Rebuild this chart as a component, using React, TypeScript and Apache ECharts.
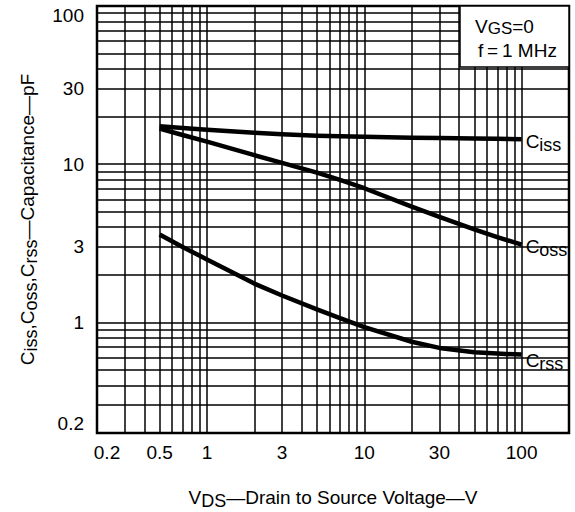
import React, { useEffect, useRef } from "react";
import * as echarts from "echarts";

// Drain-to-source voltage (V)
const vds = [0.5, 0.7, 1, 2, 3, 5, 7, 10, 20, 30, 50, 70, 100];
// Capacitances (pF)
const ciss = [17.4, 16.95, 16.5, 15.8, 15.45, 15.15, 15.0, 14.9, 14.72, 14.63, 14.52, 14.46, 14.4];
const coss = [16.8, 15.3, 13.9, 11.4, 10.2, 8.85, 7.95, 7.05, 5.4, 4.65, 3.88, 3.46, 3.1];
const crss = [3.6, 3.0, 2.5, 1.76, 1.48, 1.21, 1.065, 0.935, 0.755, 0.69, 0.648, 0.635, 0.626];

const xTickLabels = [0.2, 0.5, 1, 3, 10, 30, 100];
const yTickLabels = [0.2, 1, 3, 10, 30, 100];

const xGridValues = [
  0.3, 0.4, 0.5, 0.6, 0.7, 0.8, 0.9,
  1, 2, 3, 4, 5, 6, 7, 8, 9,
  10, 20, 30, 40, 50, 60, 70, 80, 90, 100,
];
const yGridValues = [
  0.3, 0.4, 0.5, 0.6, 0.7, 0.8, 0.9,
  1, 2, 3, 4, 5, 6, 7, 8, 9,
  10, 20, 30, 40, 50, 60, 70, 80, 90, 100,
];

const FONT = "'Liberation Sans', Arial, Helvetica, sans-serif";
const INK = "#000";
const FS = 19;

const mainTxt = { fontSize: FS, fontFamily: FONT, color: INK };
const subTxt = { fontSize: 18, fontFamily: FONT, color: INK, padding: [7, 0, 0, 0] };

export default function App() {
  const ref = useRef<HTMLDivElement>(null);

  useEffect(() => {
    if (!ref.current) return;
    const chart = echarts.init(ref.current, undefined, { renderer: "svg" });

    const curve = (name: string, ys: number[], sub: string, offY: number) => ({
      type: "line",
      name,
      data: vds.map((x, i) => [x, ys[i]]),
      showSymbol: false,
      symbol: "none",
      smooth: false,
      z: 5,
      lineStyle: { color: INK, width: 4.5, cap: "butt", join: "round" },
      endLabel: {
        show: true,
        distance: 4,
        offset: [0, offY],
        formatter: `{c|C}{s|${sub}}`,
        rich: { c: mainTxt, s: subTxt },
      },
      emphasis: { disabled: true },
    });

    const option: any = {
      animation: false,
      backgroundColor: "#fff",
      grid: {
        left: 97,
        right: 6,
        top: 6,
        bottom: 79,
        show: true,
        borderColor: INK,
        borderWidth: 2.5,
        backgroundColor: "transparent",
        outerBoundsMode: "none",
      },
      xAxis: {
        type: "log",
        logBase: 10,
        min: 0.2,
        max: 200,
        name: "{v|V}{s|DS}{n|—Drain to Source Voltage—V}",
        nameLocation: "middle",
        nameGap: 52,
        nameTextStyle: {
          rich: { v: mainTxt, s: subTxt, n: mainTxt },
        },
        axisLine: { show: false },
        axisTick: { show: false },
        splitLine: { show: false },
        minorSplitLine: { show: false },
        axisLabel: {
          customValues: xTickLabels,
          margin: 10,
          fontSize: FS,
          fontFamily: FONT,
          color: INK,
          formatter: (v: number) => (Math.abs(v - 0.2) < 1e-9 ? "{p|0.2}" : String(v)),
          rich: { p: { fontSize: FS, fontFamily: FONT, color: INK, padding: [0, 0, 0, 20] } },
        },
      },
      yAxis: {
        type: "log",
        logBase: 10,
        min: 0.2,
        max: 100,
        name: "{c|C}{s|iss}{c|,C}{s|oss}{c|,C}{s|rss}{c|—Capacitance—pF}",
        nameLocation: "middle",
        nameRotate: 90,
        nameGap: 57,
        nameTextStyle: {
          rich: { c: mainTxt, s: subTxt },
        },
        axisLine: { show: false },
        axisTick: { show: false },
        splitLine: { show: false },
        minorSplitLine: { show: false },
        axisLabel: {
          customValues: yTickLabels,
          margin: 13,
          fontSize: FS,
          fontFamily: FONT,
          color: INK,
          formatter: (v: number) => String(v),
          verticalAlignMaxLabel: "top",
          verticalAlignMinLabel: "bottom",
        },
      },
      series: [
        {
          type: "line",
          name: "grid",
          data: [],
          silent: true,
          z: 1,
          markLine: {
            silent: true,
            symbol: ["none", "none"],
            label: { show: false },
            emphasis: { disabled: true },
            lineStyle: { color: "#000", width: 1.5, type: "solid" },
            data: [
              ...xGridValues.map((v) => ({ xAxis: v })),
              ...yGridValues.map((v) => ({ yAxis: v })),
            ],
          },
        },
        curve("Ciss", ciss, "iss", 2),
        curve("Coss", coss, "oss", 2),
        curve("Crss", crss, "rss", 6),
      ],
      graphic: [
        {
          type: "rect",
          z: 50,
          shape: { x: 460, y: 6, width: 109, height: 61 },
          style: { fill: "#fff", stroke: INK, lineWidth: 1.5 },
        },
        {
          type: "text",
          z: 51,
          x: 475,
          y: 26,
          style: {
            text: "{a|V}{b|GS}{a|=0}",
            verticalAlign: "middle",
            rich: {
              a: { fontSize: FS, fontFamily: FONT, fill: INK },
              b: { fontSize: 17, fontFamily: FONT, fill: INK, padding: [5, 0, 0, 0] },
            },
          },
        },
        {
          type: "text",
          z: 51,
          x: 478,
          y: 50,
          style: {
            text: "f\u2009=\u20091 MHz",
            fontSize: FS,
            fontFamily: FONT,
            fill: INK,
            verticalAlign: "middle",
          },
        },
      ],
    };

    chart.setOption(option);
    return () => chart.dispose();
  }, []);

  return (
    <div
      ref={ref}
      style={{ position: "absolute", left: 0, top: 0, width: 575, height: 512 }}
    />
  );
}
